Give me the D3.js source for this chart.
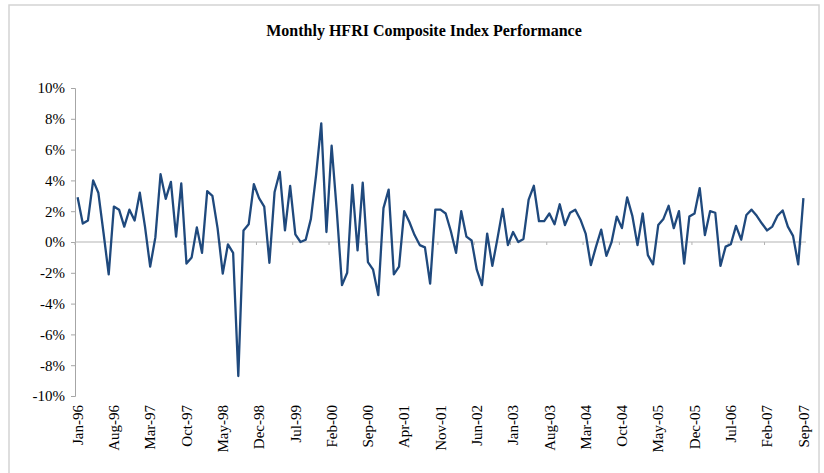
<!DOCTYPE html>
<html>
<head>
<meta charset="utf-8">
<script src="https://cdn.jsdelivr.net/npm/d3@7"></script>
<style>
    body { margin: 0; background: #fff; }
    svg { display: block; font-family: "Liberation Serif", "Times New Roman", serif; }
</style>
</head>
<body>
<svg class="hfri__chart"></svg>
<script>
// monthly returns in %, Jan-96 .. Sep-07
const monthNames = ['Jan', 'Feb', 'Mar', 'Apr', 'May', 'Jun', 'Jul', 'Aug', 'Sep', 'Oct', 'Nov', 'Dec'];
const startYear = 1996;
const returns = [
    2.9, 1.2, 1.4, 4.0, 3.2, 0.6, -2.1, 2.3, 2.1, 1.0, 2.1, 1.4,
    3.2, 1.0, -1.6, 0.3, 4.4, 2.8, 3.9, 0.35, 3.8, -1.4, -1.0, 0.95,
    -0.7, 3.3, 3.0, 0.9, -2.05, -0.15, -0.7, -8.7, 0.75, 1.15, 3.75, 2.85,
    2.3, -1.35, 3.25, 4.55, 0.75, 3.65, 0.5, 0.0, 0.15, 1.5, 4.35, 7.7,
    0.65, 6.25, 2.0, -2.8, -2.0, 3.7, -0.55, 3.85, -1.3, -1.8, -3.45, 2.2,
    3.4, -2.1, -1.6, 2.0, 1.3, 0.45, -0.2, -0.35, -2.7, 2.1, 2.1, 1.85,
    0.7, -0.7, 2.0, 0.35, 0.1, -1.8, -2.8, 0.55, -1.55, 0.25, 2.15, -0.2,
    0.65, 0.0, 0.2, 2.75, 3.65, 1.35, 1.35, 1.85, 1.15, 2.45, 1.1, 1.9,
    2.1, 1.45, 0.55, -1.5, -0.3, 0.8, -0.9, 0.0, 1.65, 0.9, 2.9, 1.7,
    -0.2, 1.85, -0.85, -1.45, 1.1, 1.5, 2.35, 0.9, 2.0, -1.4, 1.65, 1.85,
    3.5, 0.45, 2.0, 1.9, -1.55, -0.3, -0.15, 1.05, 0.15, 1.75, 2.1, 1.7,
    1.2, 0.75, 1.0, 1.7, 2.05, 1.0, 0.4, -1.45, 2.85
];
const yTicks = [-10, -8, -6, -4, -2, 0, 2, 4, 6, 8, 10];
const labelEvery = 7;

function monthLabel(i) {
    let yr = startYear + Math.floor(i / 12);
    return monthNames[i % 12] + '-' + String(yr).slice(2);
}

function drawChart() {
    const width = 824;
    const height = 473;
    const left = 75, right = 806, top = 88, bottom = 396;

    let months = returns.map((v, i) => monthLabel(i));

    let svg = d3.select('.hfri__chart')
                .attr('width', width)
                .attr('height', height);

    // outer frame
    svg.append('rect')
        .attr('x', 9).attr('y', 5)
        .attr('width', 810).attr('height', 520)
        .attr('fill', 'none')
        .attr('stroke', '#d4d4d4')
        .attr('stroke-width', 1.5);

    svg.append('text')
        .attr('x', 424)
        .attr('y', 36)
        .attr('text-anchor', 'middle')
        .attr('font-size', 16)
        .attr('font-weight', 'bold')
        .text('Monthly HFRI Composite Index Performance');

    let xScale = d3.scaleBand()
                    .domain(months)
                    .range([left, right]);
    let yScale = d3.scaleLinear()
                    .domain([-10, 10])
                    .range([bottom, top]);

    // y axis
    let yAxis = d3.axisLeft(yScale)
                    .tickValues(yTicks)
                    .tickSize(4)
                    .tickFormat(d => d + '%');
    let yG = svg.append('g')
                .attr('transform', `translate(${left},0)`)
                .call(yAxis);
    yG.select('.domain').attr('stroke', '#a6a6a6');
    yG.selectAll('.tick line').attr('stroke', '#a6a6a6');
    yG.selectAll('.tick text')
        .attr('font-family', 'Liberation Serif')
        .attr('font-size', 15)
        .attr('fill', '#000')
        .attr('x', -10);

    // zero line with category ticks
    let zeroY = yScale(0);
    svg.append('line')
        .attr('x1', left).attr('x2', right)
        .attr('y1', zeroY).attr('y2', zeroY)
        .attr('stroke', '#b3b3b3');

    let tickMonths = months.filter((m, i) => i % labelEvery === 0);
    svg.selectAll('.zero-tick')
        .data(tickMonths)
        .enter()
            .append('line')
            .classed('zero-tick', true)
            .attr('x1', d => xScale(d)).attr('x2', d => xScale(d))
            .attr('y1', zeroY).attr('y2', zeroY + 3)
            .attr('stroke', '#b3b3b3');

    // rotated month labels along the bottom
    svg.selectAll('.x-label')
        .data(tickMonths)
        .enter()
            .append('text')
            .classed('x-label', true)
            .attr('transform', d => `translate(${xScale(d) + xScale.bandwidth() / 2},${bottom + 9}) rotate(-90)`)
            .attr('text-anchor', 'end')
            .attr('dy', '0.35em')
            .attr('font-size', 15)
            .text(d => d);

    let line = d3.line()
                .x((d, i) => xScale(months[i]) + xScale.bandwidth() / 2)
                .y(d => yScale(d));

    svg.append('path')
        .datum(returns)
        .attr('d', line)
        .attr('fill', 'none')
        .attr('stroke', '#1f497d')
        .attr('stroke-width', 2.3)
        .attr('stroke-linejoin', 'round');
}

drawChart();
</script>
</body>
</html>
